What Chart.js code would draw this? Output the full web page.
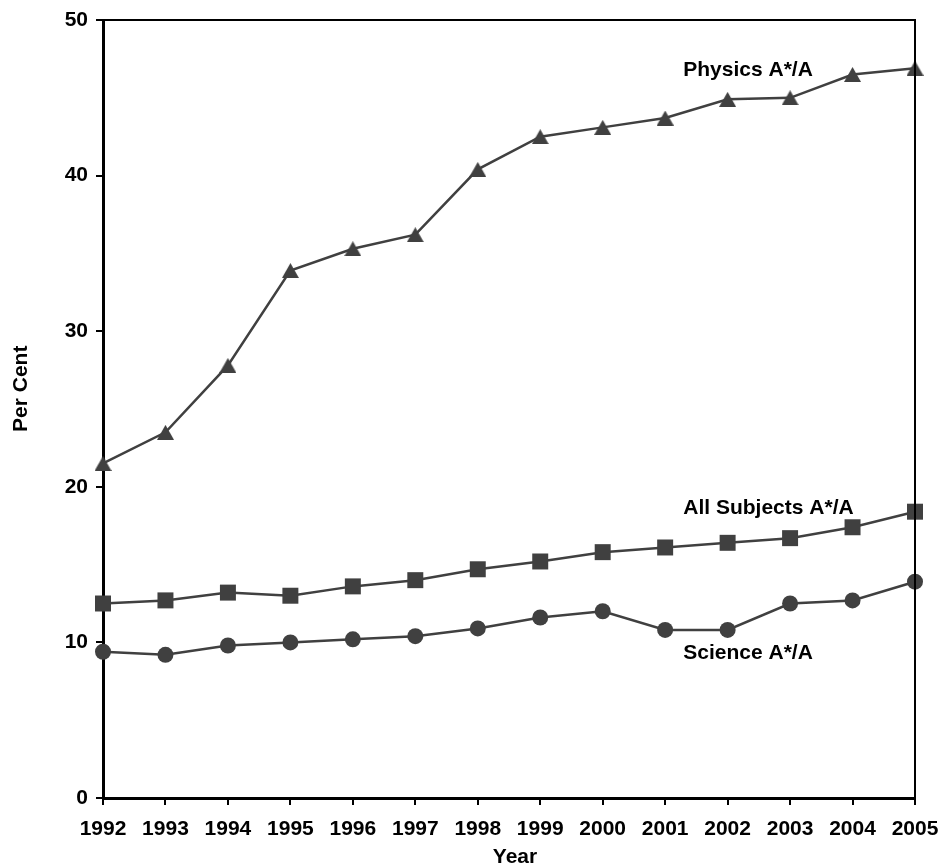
<!DOCTYPE html>
<html>
<head>
<meta charset="utf-8">
<script src="https://cdn.jsdelivr.net/npm/chart.js@4.4.0/dist/chart.umd.min.js"></script>
<style>
  html, body { margin: 0; padding: 0; background: #fff; }
  #wrap { width: 940px; height: 867px; }
</style>
</head>
<body>
<div id="wrap"><canvas id="gradesChart"></canvas></div>
<script>
// A-level A*/A 비율 데이터
const years = ["1992", "1993", "1994", "1995", "1996", "1997", "1998",
  "1999", "2000", "2001", "2002", "2003", "2004", "2005"];
const physicsValues = [21.5, 23.5, 27.8, 33.9, 35.3, 36.2, 40.4, 42.5, 43.1, 43.7, 44.9, 45.0, 46.5, 46.9];
const allSubjectsValues = [12.5, 12.7, 13.2, 13.0, 13.6, 14.0, 14.7, 15.2, 15.8, 16.1, 16.4, 16.7, 17.4, 18.4];
const scienceValues = [9.4, 9.2, 9.8, 10.0, 10.2, 10.4, 10.9, 11.6, 12.0, 10.8, 10.8, 12.5, 12.7, 13.9];
const yTicks = [0, 10, 20, 30, 40, 50];

// 시리즈 라벨 (카테고리 인덱스, 값 기준)
const seriesLabels = [
  { text: "Physics A*/A", at: 9.29, value: 46.8 },
  { text: "All Subjects A*/A", at: 9.29, value: 18.6 },
  { text: "Science A*/A", at: 9.29, value: 9.3 }
];

const FONT = "'Liberation Sans', Arial, Helvetica, sans-serif";
const INK = "#404040";

// 삼각형 마커 (박스 중앙 정렬)
function makeTriangle(w, h) {
  const c = document.createElement("canvas");
  c.width = w;
  c.height = h;
  const g = c.getContext("2d");
  g.fillStyle = INK;
  g.beginPath();
  g.moveTo(w / 2, 0);
  g.lineTo(w, h);
  g.lineTo(0, h);
  g.closePath();
  g.fill();
  return c;
}
const triangle = makeTriangle(17, 15);

// 테두리 + 텍스트 라벨
const framePlugin = {
  id: "frame",
  afterDraw(chart) {
    const { ctx, chartArea: a, scales } = chart;
    ctx.save();
    ctx.strokeStyle = "#000";
    ctx.lineWidth = 2;
    ctx.beginPath();
    ctx.moveTo(a.left, a.top);
    ctx.lineTo(a.right, a.top);
    ctx.lineTo(a.right, a.bottom);
    ctx.stroke();

    ctx.fillStyle = "#000";
    ctx.font = "bold 21px " + FONT;
    ctx.textBaseline = "middle";
    ctx.textAlign = "left";
    seriesLabels.forEach(l => {
      ctx.fillText(l.text, scales.x.getPixelForValue(l.at), scales.y.getPixelForValue(l.value));
    });

    // 축 제목
    ctx.textAlign = "center";
    ctx.fillText("Year", (a.left + a.right) / 2 + 6, 857);
    ctx.translate(21, scales.y.getPixelForValue(26.3));
    ctx.rotate(-Math.PI / 2);
    ctx.fillText("Per Cent", 0, 0);
    ctx.restore();
  }
};

const common = {
  borderColor: INK,
  backgroundColor: INK,
  pointBackgroundColor: INK,
  pointBorderColor: INK,
  borderWidth: 2.5,
  pointBorderWidth: 0,
  tension: 0,
  clip: false
};

new Chart(document.getElementById("gradesChart"), {
  type: "line",
  data: {
    labels: years,
    datasets: [
      { ...common, label: "Physics A*/A", data: physicsValues, pointStyle: triangle, pointRadius: 9 },
      { ...common, label: "All Subjects A*/A", data: allSubjectsValues, pointStyle: "rect", pointRadius: 11.3 },
      { ...common, label: "Science A*/A", data: scienceValues, pointStyle: "circle", pointRadius: 8 }
    ]
  },
  options: {
    responsive: true,
    maintainAspectRatio: false,
    animation: false,
    layout: { padding: { top: 20, right: 25, left: 0, bottom: 0 } },
    plugins: {
      legend: { display: false },
      tooltip: { enabled: false }
    },
    scales: {
      x: {
        offset: false,
        grid: { drawOnChartArea: false, drawTicks: true, tickLength: 7, color: "#000", lineWidth: 2 },
        border: { color: "#000", width: 3 },
        ticks: {
          color: "#000",
          font: { family: FONT, size: 21, weight: "bold" },
          padding: 12,
          maxRotation: 0,
          autoSkip: false
        },
        afterFit: s => {
          s.height = 69;
          s.paddingLeft = 0;
          s.paddingRight = 0;
        }
      },
      y: {
        min: 0,
        max: 50,
        afterBuildTicks: s => { s.ticks = yTicks.map(v => ({ value: v })); },
        grid: { drawOnChartArea: false, drawTicks: true, tickLength: 7, color: "#000", lineWidth: 2 },
        border: { color: "#000", width: 3 },
        ticks: {
          color: "#000",
          font: { family: FONT, size: 21, weight: "bold" },
          padding: 8
        },
        afterFit: s => {
          s.width = 103;
          s.paddingTop = 0;
          s.paddingBottom = 0;
        }
      }
    }
  },
  plugins: [framePlugin]
});
</script>
</body>
</html>
